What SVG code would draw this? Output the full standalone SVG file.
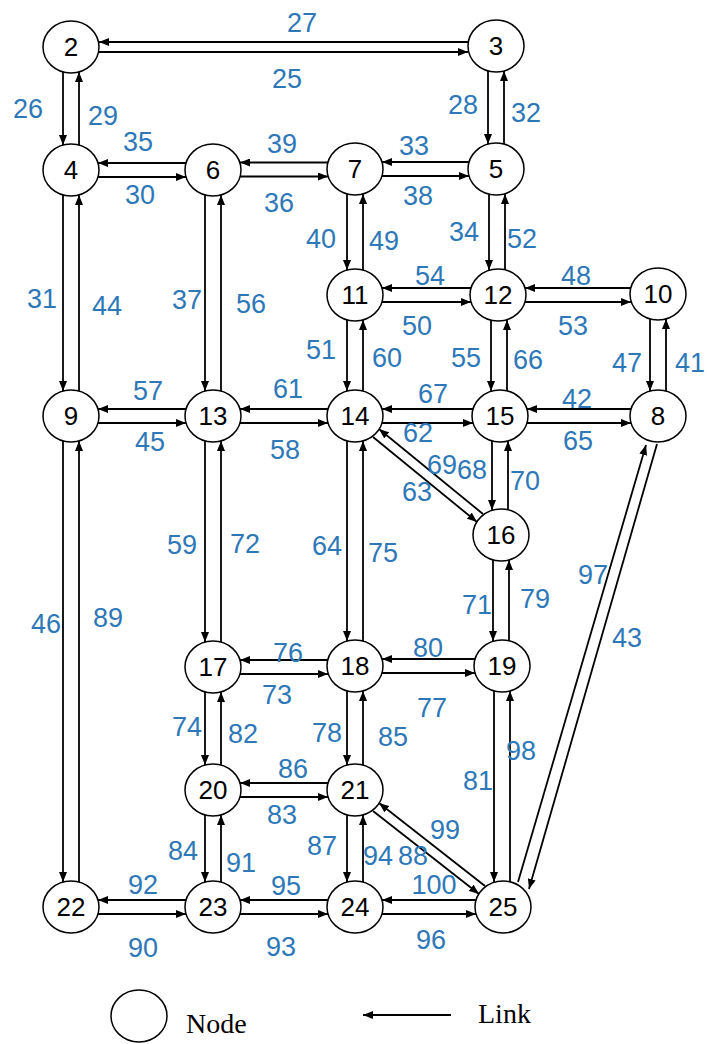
<svg xmlns="http://www.w3.org/2000/svg" width="707" height="1044" viewBox="0 0 707 1044">
<defs>
<marker id="ah" markerWidth="10" markerHeight="8" refX="10" refY="4" orient="auto" markerUnits="userSpaceOnUse">
<path d="M0,0 L10,4 L0,8 Z" fill="#000"/>
</marker>
<style>
.n ellipse{fill:#fff;stroke:#000;stroke-width:1.5}
.n text{font-family:"Liberation Sans",Arial,sans-serif;font-size:26px;fill:#000;text-anchor:middle}
#links line{stroke:#000;stroke-width:1.8;marker-end:url(#ah)}
.l{font-family:"Liberation Sans",Arial,sans-serif;font-size:27px;fill:#2E78B8;text-anchor:middle}
.lg{font-family:"Liberation Serif","Times New Roman",serif;font-size:28px;fill:#000}
</style>
</defs>
<rect width="707" height="1044" fill="#fff"/>
<g id="links">
<line x1="468" y1="42" x2="99" y2="42"/><line x1="99" y1="52" x2="468" y2="52"/>
<line x1="186" y1="163" x2="98" y2="163"/><line x1="98" y1="177" x2="186" y2="177"/>
<line x1="328" y1="162.5" x2="240" y2="162.5"/><line x1="240" y1="176.5" x2="328" y2="176.5"/>
<line x1="469" y1="162" x2="382" y2="162"/><line x1="382" y1="176" x2="469" y2="176"/>
<line x1="471" y1="288" x2="382" y2="288"/><line x1="382" y1="302" x2="471" y2="302"/>
<line x1="631" y1="288" x2="525" y2="288"/><line x1="525" y1="302" x2="631" y2="302"/>
<line x1="186" y1="409" x2="98" y2="409"/><line x1="98" y1="423" x2="186" y2="423"/>
<line x1="328" y1="409" x2="240" y2="409"/><line x1="240" y1="423" x2="328" y2="423"/>
<line x1="473" y1="409" x2="382" y2="409"/><line x1="382" y1="423" x2="473" y2="423"/>
<line x1="631" y1="409" x2="527" y2="409"/><line x1="527" y1="423" x2="631" y2="423"/>
<line x1="328" y1="660" x2="240" y2="660"/><line x1="240" y1="674" x2="328" y2="674"/>
<line x1="475" y1="659" x2="382" y2="659"/><line x1="382" y1="673" x2="475" y2="673"/>
<line x1="328" y1="783" x2="240" y2="783"/><line x1="240" y1="797" x2="328" y2="797"/>
<line x1="186" y1="900" x2="98" y2="900"/><line x1="98" y1="914" x2="186" y2="914"/>
<line x1="328" y1="900" x2="240" y2="900"/><line x1="240" y1="914" x2="328" y2="914"/>
<line x1="476" y1="900" x2="382" y2="900"/><line x1="382" y1="914" x2="476" y2="914"/>
<line x1="63" y1="72" x2="63" y2="145"/><line x1="79" y1="145" x2="79" y2="72"/>
<line x1="488" y1="71" x2="488" y2="144"/><line x1="504" y1="144" x2="504" y2="71"/>
<line x1="63" y1="195" x2="63" y2="391"/><line x1="79" y1="391" x2="79" y2="195"/>
<line x1="205" y1="195" x2="205" y2="391"/><line x1="221" y1="391" x2="221" y2="195"/>
<line x1="347" y1="194" x2="347" y2="270"/><line x1="363" y1="270" x2="363" y2="194"/>
<line x1="489" y1="194" x2="489" y2="270"/><line x1="505" y1="270" x2="505" y2="194"/>
<line x1="347" y1="320" x2="347" y2="391"/><line x1="363" y1="391" x2="363" y2="320"/>
<line x1="491" y1="320" x2="491" y2="391"/><line x1="507" y1="391" x2="507" y2="320"/>
<line x1="650" y1="319" x2="650" y2="391"/><line x1="666" y1="391" x2="666" y2="319"/>
<line x1="492" y1="441" x2="492" y2="510"/><line x1="508" y1="510" x2="508" y2="441"/>
<line x1="63" y1="441" x2="63" y2="882"/><line x1="79" y1="882" x2="79" y2="441"/>
<line x1="205" y1="441" x2="205" y2="642"/><line x1="221" y1="642" x2="221" y2="441"/>
<line x1="347" y1="441" x2="347" y2="641"/><line x1="363" y1="641" x2="363" y2="441"/>
<line x1="493" y1="560" x2="493" y2="641"/><line x1="509" y1="641" x2="509" y2="560"/>
<line x1="205" y1="692" x2="205" y2="765"/><line x1="221" y1="765" x2="221" y2="692"/>
<line x1="347" y1="691" x2="347" y2="765"/><line x1="363" y1="765" x2="363" y2="691"/>
<line x1="494" y1="691" x2="494" y2="882"/><line x1="510" y1="882" x2="510" y2="691"/>
<line x1="205" y1="815" x2="205" y2="882"/><line x1="221" y1="882" x2="221" y2="815"/>
<line x1="347" y1="815" x2="347" y2="882"/><line x1="363" y1="882" x2="363" y2="815"/>
<line x1="483" y1="514" x2="379" y2="429"/><line x1="373" y1="437" x2="477" y2="522"/>
<line x1="485" y1="886" x2="379" y2="803"/><line x1="373" y1="811" x2="479" y2="894"/>
<line x1="518" y1="882" x2="646" y2="445"/><line x1="657" y1="444" x2="529" y2="889"/>
</g>
<g id="n2" class="n"><ellipse cx="71" cy="47" rx="28" ry="26"/><text x="71" y="56">2</text></g>
<g id="n3" class="n"><ellipse cx="496" cy="46" rx="28" ry="26"/><text x="496" y="55">3</text></g>
<g id="n4" class="n"><ellipse cx="71" cy="170" rx="28" ry="26"/><text x="71" y="179">4</text></g>
<g id="n6" class="n"><ellipse cx="213" cy="170" rx="28" ry="26"/><text x="213" y="179">6</text></g>
<g id="n7" class="n"><ellipse cx="355" cy="169" rx="28" ry="26"/><text x="355" y="178">7</text></g>
<g id="n5" class="n"><ellipse cx="496" cy="169" rx="28" ry="26"/><text x="496" y="178">5</text></g>
<g id="n11" class="n"><ellipse cx="355" cy="295" rx="28" ry="26"/><text x="355" y="304">11</text></g>
<g id="n12" class="n"><ellipse cx="498" cy="295" rx="28" ry="26"/><text x="498" y="304">12</text></g>
<g id="n10" class="n"><ellipse cx="658" cy="294" rx="28" ry="26"/><text x="658" y="303">10</text></g>
<g id="n9" class="n"><ellipse cx="71" cy="416" rx="28" ry="26"/><text x="71" y="425">9</text></g>
<g id="n13" class="n"><ellipse cx="213" cy="416" rx="28" ry="26"/><text x="213" y="425">13</text></g>
<g id="n14" class="n"><ellipse cx="355" cy="416" rx="28" ry="26"/><text x="355" y="425">14</text></g>
<g id="n15" class="n"><ellipse cx="500" cy="416" rx="28" ry="26"/><text x="500" y="425">15</text></g>
<g id="n8" class="n"><ellipse cx="658" cy="416" rx="28" ry="26"/><text x="658" y="425">8</text></g>
<g id="n16" class="n"><ellipse cx="501" cy="535" rx="28" ry="26"/><text x="501" y="544">16</text></g>
<g id="n17" class="n"><ellipse cx="213" cy="667" rx="28" ry="26"/><text x="213" y="676">17</text></g>
<g id="n18" class="n"><ellipse cx="355" cy="666" rx="28" ry="26"/><text x="355" y="675">18</text></g>
<g id="n19" class="n"><ellipse cx="502" cy="666" rx="28" ry="26"/><text x="502" y="675">19</text></g>
<g id="n20" class="n"><ellipse cx="213" cy="790" rx="28" ry="26"/><text x="213" y="799">20</text></g>
<g id="n21" class="n"><ellipse cx="355" cy="790" rx="28" ry="26"/><text x="355" y="799">21</text></g>
<g id="n22" class="n"><ellipse cx="71" cy="907" rx="28" ry="26"/><text x="71" y="916">22</text></g>
<g id="n23" class="n"><ellipse cx="213" cy="907" rx="28" ry="26"/><text x="213" y="916">23</text></g>
<g id="n24" class="n"><ellipse cx="355" cy="907" rx="28" ry="26"/><text x="355" y="916">24</text></g>
<g id="n25" class="n"><ellipse cx="503" cy="907" rx="28" ry="26"/><text x="503" y="916">25</text></g>
<g id="labels">
<text class="l" x="302" y="32">27</text>
<text class="l" x="287" y="88">25</text>
<text class="l" x="28" y="118">26</text>
<text class="l" x="103" y="125">29</text>
<text class="l" x="463" y="114">28</text>
<text class="l" x="526" y="122">32</text>
<text class="l" x="138" y="151">35</text>
<text class="l" x="140" y="204">30</text>
<text class="l" x="282" y="153">39</text>
<text class="l" x="279" y="212">36</text>
<text class="l" x="414" y="155">33</text>
<text class="l" x="418" y="205">38</text>
<text class="l" x="321" y="248">40</text>
<text class="l" x="384" y="250">49</text>
<text class="l" x="464" y="241">34</text>
<text class="l" x="522" y="248">52</text>
<text class="l" x="42" y="308">31</text>
<text class="l" x="107" y="315">44</text>
<text class="l" x="187" y="309">37</text>
<text class="l" x="251" y="313">56</text>
<text class="l" x="430" y="285">54</text>
<text class="l" x="417" y="335">50</text>
<text class="l" x="576" y="285">48</text>
<text class="l" x="573" y="335">53</text>
<text class="l" x="321" y="359">51</text>
<text class="l" x="387" y="367">60</text>
<text class="l" x="466" y="367">55</text>
<text class="l" x="528" y="369">66</text>
<text class="l" x="627" y="372">47</text>
<text class="l" x="690" y="372">41</text>
<text class="l" x="148" y="400">57</text>
<text class="l" x="150" y="451">45</text>
<text class="l" x="288" y="398">61</text>
<text class="l" x="285" y="459">58</text>
<text class="l" x="433" y="403">67</text>
<text class="l" x="418" y="442">62</text>
<text class="l" x="577" y="408">42</text>
<text class="l" x="578" y="450">65</text>
<text class="l" x="442" y="474">69</text>
<text class="l" x="472" y="479">68</text>
<text class="l" x="417" y="501">63</text>
<text class="l" x="525" y="490">70</text>
<text class="l" x="182" y="554">59</text>
<text class="l" x="245" y="553">72</text>
<text class="l" x="327" y="555">64</text>
<text class="l" x="383" y="562">75</text>
<text class="l" x="46" y="633">46</text>
<text class="l" x="108" y="627">89</text>
<text class="l" x="477" y="614">71</text>
<text class="l" x="535" y="608">79</text>
<text class="l" x="593" y="584">97</text>
<text class="l" x="627" y="647">43</text>
<text class="l" x="288" y="662">76</text>
<text class="l" x="277" y="704">73</text>
<text class="l" x="428" y="657">80</text>
<text class="l" x="432" y="717">77</text>
<text class="l" x="187" y="736">74</text>
<text class="l" x="243" y="743">82</text>
<text class="l" x="327" y="742">78</text>
<text class="l" x="393" y="746">85</text>
<text class="l" x="478" y="790">81</text>
<text class="l" x="521" y="760">98</text>
<text class="l" x="293" y="778">86</text>
<text class="l" x="282" y="824">83</text>
<text class="l" x="183" y="860">84</text>
<text class="l" x="241" y="872">91</text>
<text class="l" x="322" y="855">87</text>
<text class="l" x="378" y="865">94</text>
<text class="l" x="413" y="865">88</text>
<text class="l" x="445" y="839">99</text>
<text class="l" x="434" y="894">100</text>
<text class="l" x="143" y="894">92</text>
<text class="l" x="143" y="957">90</text>
<text class="l" x="286" y="895">95</text>
<text class="l" x="281" y="956">93</text>
<text class="l" x="431" y="949">96</text>
</g>
<g id="legend">
<ellipse cx="139" cy="1016" rx="28" ry="26" fill="#fff" stroke="#000" stroke-width="1.5"/>
<text class="lg" x="186" y="1033">Node</text>
<line x1="451" y1="1015" x2="363" y2="1015" stroke="#000" stroke-width="1.8" marker-end="url(#ah)"/>
<text class="lg" x="478" y="1023">Link</text>
</g>
</svg>
